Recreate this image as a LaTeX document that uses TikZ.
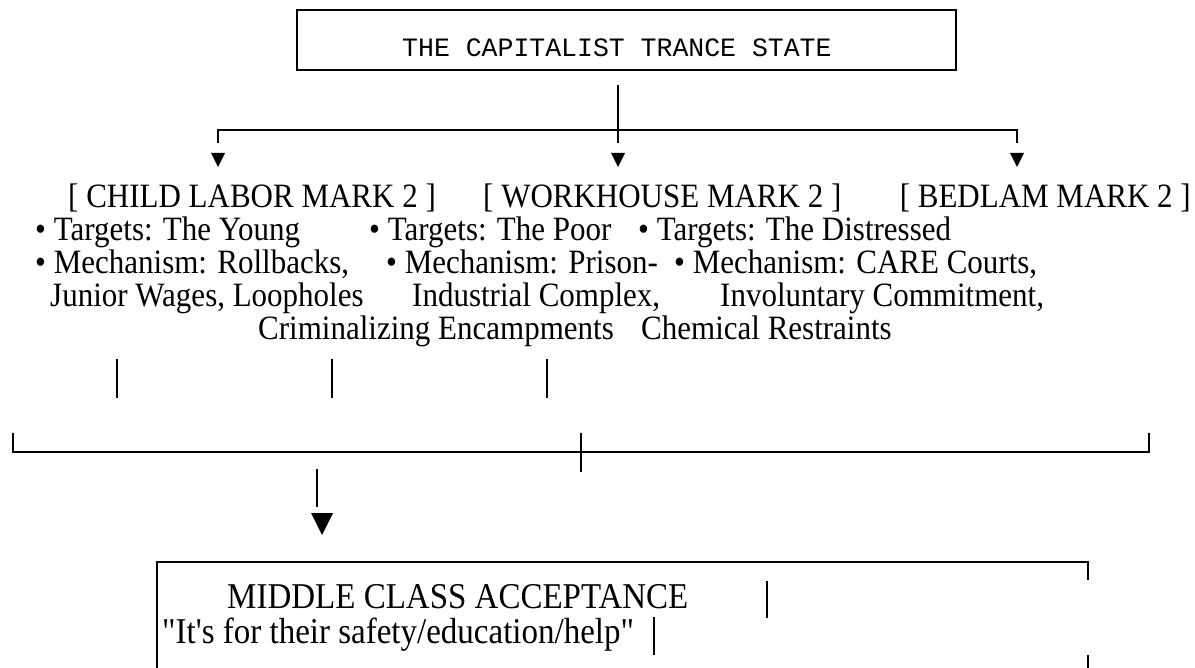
\documentclass[tikz,border=0pt]{standalone}
\usepackage{fontspec}
\setmainfont{Liberation Serif}[Ligatures=TeXOff]
\newfontfamily\cour{Liberation Mono}[Ligatures=TeXOff]
\begin{document}
\begin{tikzpicture}[x=1pt,y=-1pt,
  txt/.style={font=\fontsize{31}{31}\selectfont, inner sep=0pt, anchor=base west, yscale=1.1},
  txtr/.style={txt, anchor=base east},
  bigtxt/.style={txt, font=\fontsize{33}{33}\selectfont},
  mono/.style={font=\cour\fontsize{26.5}{26.5}\selectfont, inner sep=0pt, anchor=base west},
  boxline/.style={line width=1.8pt},
  conn/.style={line width=1.5pt},
  tri/.style={fill=black}]
\useasboundingbox (0,0) rectangle (1195,668);
% top box
\draw[boxline] (297,10) rectangle (956,70);
\node[mono] (title) at (402,57) {THE CAPITALIST TRANCE STATE};
% connector from top box
\coordinate (c0) at (618,85);
\coordinate (c1) at (618,143);
\coordinate (hl) at (218,130);
\coordinate (hr) at (1017,130);
\draw[conn] (c0) -- (c1);
\draw[conn] (hl |- 0,143) -- (hl) -- (hr) -- (hr |- 0,143);
\foreach \x in {218,618,1017}{
  \fill[tri] (\x-7,153) -- (\x+7,153) -- (\x,167) -- cycle;
}
% row 1
\node[txt] (l1a) at (68,208) {[ CHILD LABOR MARK 2 ]};
\node[txt] (l1b) at (483,208) {[ WORKHOUSE MARK 2 ]};
\node[txtr] (l1c) at (1191,208) {[ BEDLAM MARK 2 ]};
% row 2
\node[txt] (l2a) at (35,241) {• Targets: The Young};
\node[txt] (l2b) at (369,241) {• Targets: The Poor};
\node[txt] (l2c) at (638,241) {• Targets: The Distressed};
% row 3
\node[txt] (l3a) at (35,274) {• Mechanism: Rollbacks,};
\node[txt] (l3b) at (386,274) {• Mechanism: Prison-};
\node[txt] (l3c) at (674,274) {• Mechanism: CARE Courts,};
% row 4
\node[txt] (l4a) at (50,307) {Junior Wages, Loopholes};
\node[txt] (l4b) at (412,307) {Industrial Complex,};
\node[txt] (l4c) at (720,307) {Involuntary Commitment,};
% row 5
\node[txt] (l5a) at (258,340) {Criminalizing Encampments};
\node[txt] (l5b) at (641,340) {Chemical Restraints};
% short verticals
\foreach \x in {117,332,547}{
  \draw[conn] (\x,359) -- (\x,398);
}
% bracket
\draw[boxline] (13,433) -- (13,452) -- (1149,452) -- (1149,433);
\draw[conn] (581,433) -- (581,472);
% arrow down
\coordinate (d0) at (317,469);
\coordinate (d1) at (317,507);
\draw[conn] (d0) -- (d1);
\fill[tri] (311,513) -- (333,513) -- (322,535) -- cycle;
% bottom box
\draw[boxline] (157,668) -- (157,562) -- (1088,562) -- (1088,580);
\draw[boxline] (1088,655) -- (1088,668);
\node[bigtxt] (m1) at (227,608) {MIDDLE CLASS ACCEPTANCE};
\node[bigtxt] (m2) at (162,643) {"It's for their safety/education/help"};
\draw[conn] (767,581) -- (767,618);
\draw[conn] (654,617) -- (654,655);
\end{tikzpicture}
\end{document}
